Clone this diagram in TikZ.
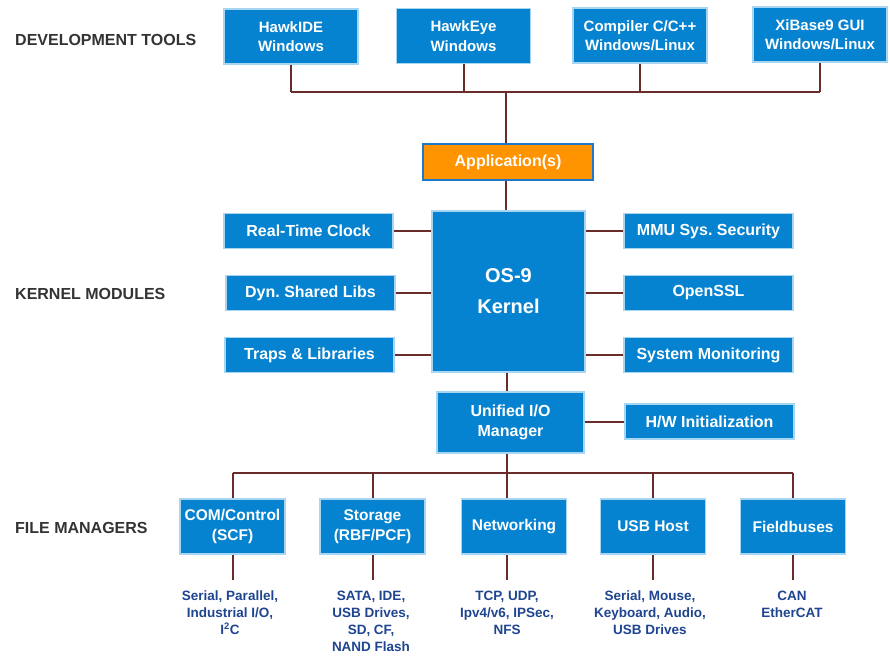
\documentclass[tikz,border=0pt]{standalone}
\usepackage{fontspec}
\setmainfont{Liberation Sans}
\frenchspacing
\definecolor{boxblue}{HTML}{0683D0}
\definecolor{boxedge}{HTML}{A8D6F2}
\definecolor{apporange}{HTML}{FF9300}
\definecolor{appedge}{HTML}{1E78C8}
\definecolor{wire}{HTML}{6A2B2B}
\definecolor{labelgray}{HTML}{333333}
\definecolor{descblue}{HTML}{1F4590}
\begin{document}
\begin{tikzpicture}[x=1pt,y=-1pt,
  bx/.style={draw=boxedge, line width=1.4pt, fill=boxblue, text=white, inner sep=0pt, align=center,
    font=\fontsize{16}{20.5}\selectfont\bfseries\frenchspacing},
  topbx/.style={bx, minimum width=134pt, minimum height=55pt, font=\fontsize{15}{19.5}\selectfont\bfseries},
  sidebx/.style={bx, minimum width=169pt, minimum height=35pt},
  fmbx/.style={bx, minimum width=105pt, minimum height=55pt, font=\fontsize{15.5}{20}\selectfont\bfseries},
  appbx/.style={draw=appedge, line width=1.4pt, fill=apporange, text=white, inner sep=0pt,
    minimum width=170pt, minimum height=36pt, font=\fontsize{16}{19}\selectfont\bfseries},
  secl/.style={anchor=west, inner sep=0pt, text=labelgray, font=\fontsize{16}{19}\selectfont\bfseries},
  desc/.style={anchor=north, inner sep=0pt, align=center, text=descblue,
    font=\fontsize{13.5}{17}\selectfont\bfseries},
  wr/.style={draw=wire, line width=2pt}
]
\useasboundingbox (0,0) rectangle (890,655);
\fill[white] (0,0) rectangle (890,655);

% section labels
\node[secl] (ldev) at (15,40) {DEVELOPMENT TOOLS};
\node[secl] (lker) at (15,294) {KERNEL MODULES};
\node[secl] (lfm) at (15,528) {FILE MANAGERS};

% development tools
\node[topbx] (hawkide) at (291,36.5) {HawkIDE\\Windows};
\node[topbx] (hawkeye) at (463.5,36) {HawkEye\\Windows};
\node[topbx] (compiler) at (640,35.5) {Compiler C/C++\\Windows/Linux};
\node[topbx] (xibase) at (820,34.5) {XiBase9 GUI\\Windows/Linux};

\node[appbx] (app) at (508,162) {Application(s)};

% kernel
\node[bx, minimum width=153pt, minimum height=161pt, font=\fontsize{20}{31}\selectfont\bfseries] (kernel) at (508.5,291.5) {OS-9\\Kernel};
\node[sidebx] (rtc) at (308.5,231) {Real-Time Clock};
\node[sidebx] (dyn) at (310.5,293) {Dyn. Shared Libs};
\node[sidebx] (traps) at (309.5,355) {Traps \& Libraries};
\node[sidebx] (mmu) at (708.5,231) {MMU Sys. Security};
\node[sidebx] (ssl) at (708.5,293) {OpenSSL};
\node[sidebx] (sysmon) at (708.5,355) {System Monitoring};

\node[bx, minimum width=147pt, minimum height=61pt] (uio) at (510.5,422.5) {Unified I/O\\Manager};
\node[sidebx] (hw) at (709.5,421.5) {H/W Initialization};

% file managers
\node[fmbx] (com) at (232.5,526.5) {COM/Control\\(SCF)};
\node[fmbx] (stor) at (372.5,526.5) {Storage\\(RBF/PCF)};
\node[fmbx] (net) at (514,526.5) {Networking};
\node[fmbx] (usb) at (653,526.5) {USB Host};
\node[fmbx] (field) at (793,526.5) {Fieldbuses};

\node[desc] (dcom) at (230,591) {Serial, Parallel,\\Industrial I/O,\\I\textsuperscript{2}C};
\node[desc] (dstor) at (371,591) {SATA, IDE,\\USB Drives,\\SD, CF,\\NAND Flash};
\node[desc] (dnet) at (507,591) {TCP, UDP,\\Ipv4/v6, IPSec,\\NFS};
\node[desc] (dusb) at (650,591) {Serial, Mouse,\\Keyboard, Audio,\\USB Drives};
\node[desc] (dfield) at (792,591) {CAN\\EtherCAT};

% top bus
\coordinate (bus) at (506,92);
\draw[wr] (hawkide.south) -- (hawkide.south |- bus);
\draw[wr] (hawkeye.south) -- (hawkeye.south |- bus);
\draw[wr] (compiler.south) -- (compiler.south |- bus);
\draw[wr] (xibase.south) -- (xibase.south |- bus);
\draw[wr] (hawkide.south |- bus) -- (xibase.south |- bus);
\draw[wr] (bus) -- (bus |- app.north);
\draw[wr] (bus |- app.south) -- (bus |- kernel.north);

% kernel side links
\draw[wr] (rtc.east) -- (kernel.west |- rtc.east);
\draw[wr] (dyn.east) -- (kernel.west |- dyn.east);
\draw[wr] (traps.east) -- (kernel.west |- traps.east);
\draw[wr] (kernel.east |- mmu.west) -- (mmu.west);
\draw[wr] (kernel.east |- ssl.west) -- (ssl.west);
\draw[wr] (kernel.east |- sysmon.west) -- (sysmon.west);
\coordinate (kdown) at (507,300);
\draw[wr] (kdown |- kernel.south) -- (kdown |- uio.north);
\draw[wr] (uio.east |- hw.west) -- (hw.west);

% bottom bus
\coordinate (fbus) at (507,473);
\draw[wr] (fbus |- uio.south) -- (fbus);
\draw[wr] (com.north |- fbus) -- (field.north |- fbus);
\draw[wr] (com.north |- fbus) -- (com.north);
\draw[wr] (stor.north |- fbus) -- (stor.north);
\draw[wr] (fbus) -- (fbus |- net.north);
\draw[wr] (usb.north |- fbus) -- (usb.north);
\draw[wr] (field.north |- fbus) -- (field.north);

% description links
\coordinate (dl) at (0,580);
\draw[wr] (com.south) -- (com.south |- dl);
\draw[wr] (stor.south) -- (stor.south |- dl);
\draw[wr] (fbus |- net.south) -- (fbus |- dl);
\draw[wr] (usb.south) -- (usb.south |- dl);
\draw[wr] (field.south) -- (field.south |- dl);
\end{tikzpicture}
\end{document}
